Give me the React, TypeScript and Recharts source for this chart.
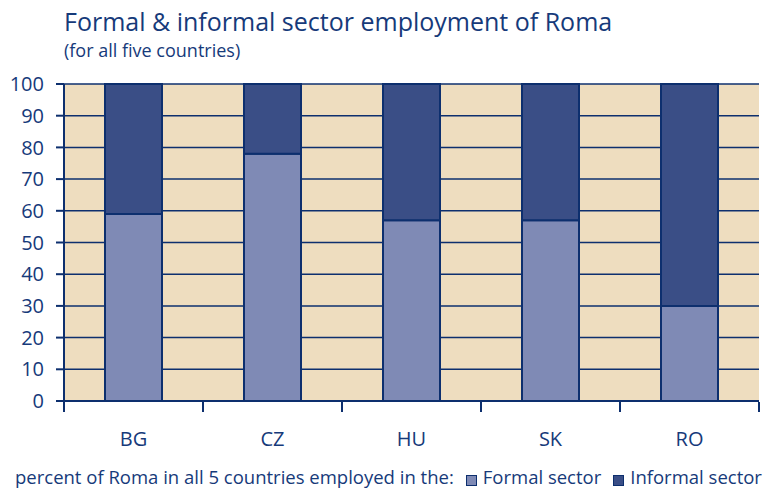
import { BarChart, Bar, XAxis, YAxis, CartesianGrid, Legend } from 'recharts'

const categories = ['BG', 'CZ', 'HU', 'SK', 'RO']
const formalValues = [59, 78, 57, 57, 30]
const informalValues = [41, 22, 43, 43, 70]
const yTicks = [0, 10, 20, 30, 40, 50, 60, 70, 80, 90, 100]

const NAVY = '#0d2f6e'
const TEXT = '#163a7a'
const FONT = "'Open Sans', sans-serif"

const W = 776
const H = 493
// bottom margin is small because the legend's own height is added to it
const MARGIN = { top: 84, right: 17, bottom: 18, left: 0 }
const Y_WIDTH = 64
const BAND = (W - MARGIN.left - MARGIN.right - Y_WIDTH) / categories.length

const data = categories.map((name, i) => ({
  name,
  formal: formalValues[i],
  informal: informalValues[i],
}))

function CategoryTick(props: any) {
  const { x, y, payload, index } = props
  const left = x - BAND / 2
  const right = x + BAND / 2
  return (
    <g>
      <line x1={left} x2={left} y1={y - 1} y2={y + 9} stroke={NAVY} strokeWidth={2} />
      {index === categories.length - 1 && (
        <line x1={right} x2={right} y1={y - 1} y2={y + 9} stroke={NAVY} strokeWidth={2} />
      )}
      <text x={x} y={y + 43} textAnchor="middle" fill={TEXT} fontSize={20} fontFamily={FONT}>
        {payload.value}
      </text>
    </g>
  )
}

function LegendContent(props: any) {
  const { payload } = props
  return (
    <div style={{ display: 'flex', alignItems: 'center', fontFamily: FONT, fontSize: 18.5, color: TEXT, whiteSpace: 'nowrap', lineHeight: '24px' }}>
      <span style={{ marginRight: 12 }}>percent of Roma in all 5 countries employed in the:</span>
      {(payload || []).map((p: any) => (
        <span key={p.value} style={{ display: 'flex', alignItems: 'center', marginRight: 12 }}>
          <span style={{ display: 'inline-block', width: 9, height: 9, background: p.color, border: `1px solid ${NAVY}`, marginRight: 6, marginTop: 6 }} />
          {p.value}
        </span>
      ))}
    </div>
  )
}

export default function App() {
  return (
    <div style={{ position: 'absolute', left: 0, top: 0, width: W, height: H, background: '#fff' }}>
      <div style={{ position: 'absolute', left: 64, top: 9, fontFamily: FONT, color: TEXT, lineHeight: 1 }}>
        <div style={{ fontSize: 25 }}>Formal &amp; informal sector employment of Roma</div>
        <div style={{ fontSize: 18, marginTop: 7 }}>(for all five countries)</div>
      </div>
      <BarChart width={W} height={H} data={data} margin={MARGIN} barSize={57}>
        <CartesianGrid
          yAxisId="left"
          vertical={false}
          stroke={NAVY}
          strokeWidth={1.5}
          fill="#eeddbf"
          fillOpacity={1}
        />
        <XAxis
          dataKey="name"
          height={50}
          axisLine={{ stroke: NAVY, strokeWidth: 2 }}
          tickLine={false}
          tickSize={0}
          tick={<CategoryTick />}
          interval={0}
        />
        <YAxis
          yAxisId="left"
          width={Y_WIDTH}
          domain={[0, 100]}
          ticks={yTicks}
          interval={0}
          axisLine={{ stroke: NAVY, strokeWidth: 2 }}
          tickLine={{ stroke: NAVY, strokeWidth: 2 }}
          tickSize={8}
          tickMargin={12}
          tick={{ fill: TEXT, fontSize: 20, fontFamily: FONT }}
        />
        <YAxis
          yAxisId="right"
          orientation="right"
          width={0}
          domain={[0, 100]}
          tick={false}
          tickLine={false}
          axisLine={{ stroke: NAVY, strokeWidth: 2 }}
        />
        <Legend
          verticalAlign="bottom"
          align="left"
          wrapperStyle={{ left: 15, bottom: 4, width: 'auto' }}
          content={<LegendContent />}
        />
        <Bar yAxisId="left" dataKey="formal" name="Formal sector" stackId="a" fill="#7f8ab5" stroke={NAVY} strokeWidth={2} isAnimationActive={false} />
        <Bar yAxisId="left" dataKey="informal" name="Informal sector" stackId="a" fill="#3a4e86" stroke={NAVY} strokeWidth={2} isAnimationActive={false} />
      </BarChart>
    </div>
  )
}
